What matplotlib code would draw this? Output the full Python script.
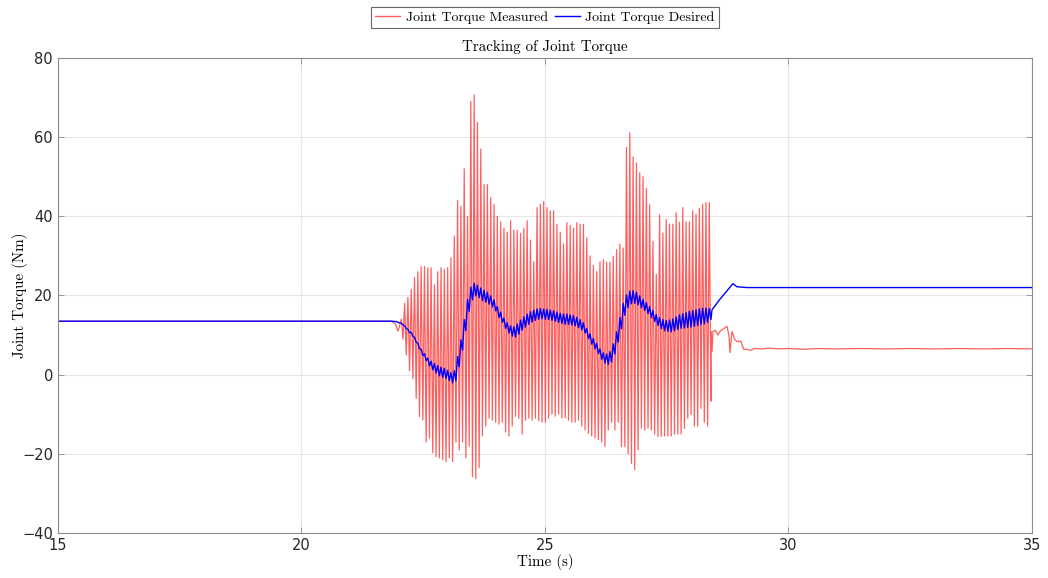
import numpy as np
import matplotlib
matplotlib.use("Agg")
import matplotlib.pyplot as plt

# ---- measured / desired joint torque data ----
# steady state before the disturbance
t_start, t_pre_end = 15.0, 21.85
torque_pre = 13.5

# measured torque: transition into the oscillation
red_lead_t = [21.85, 21.93, 21.98, 22.01]
red_lead_v = [13.5, 12.8, 11.0, 12.0]

# oscillation phase: one high and one low per cycle
osc_t0 = 22.05
osc_period = 0.068
red_highs = [14, 18, 19.5, 21.5, 24.5, 26, 27.3, 27.3, 27, 27, 22.7, 26, 27, 26.5, 27,
             29.5, 35, 44, 42.5, 52, 40, 69, 70.7, 63.7, 57, 48, 48, 44.7, 43, 40,
             38.6, 37, 36, 38.9, 36.5, 36.5, 35.7, 37, 38.9, 34, 28.5, 42.2, 43, 43.7, 42.2,
             41.4, 41.4, 38, 36, 33, 38.4, 37.7, 37, 38.4, 38, 38, 34.5, 30, 27.6, 26,
             28.5, 29, 28.4, 28.4, 29.9, 31.6, 33, 32, 57.4, 61.1, 55, 53.4, 51, 50, 47,
             42.9, 33.7, 25.3, 40.4, 35.8, 39.2, 38, 38, 40.9, 38.5, 42.2, 38.6, 38.6, 41.4, 40.5,
             42, 43, 43.5, 43.5]
red_lows = [9, 5, 1, -1, -6, -10.6, -11.4, -17, -16, -19.7, -20.7, -21, -21.5, -22, -21,
            -22, -17, -19, -17, -21, -18, -25.8, -26.3, -23.5, -15.5, -13, -11, -11.5, -12, -12.5,
            -12, -14.5, -15.5, -13, -10.5, -11, -15, -11.5, -11, -11.5, -11, -11.7, -12, -12, -11,
            -10, -10.5, -10, -11, -10.9, -11.5, -12, -12, -11.5, -13, -14, -14.8, -15.5, -16, -16.4,
            -17, -18.2, -14, -12, -14, -12, -18.2, -18.2, -20, -22.4, -24, -19, -13.5, -14, -13.5,
            -14, -15, -15.6, -15.6, -15.5, -15.5, -15.5, -15, -15, -15, -13.6, -11, -10, -13, -13,
            -8.5, -12, -13, -6.7]

# measured torque after the oscillation settles
red_tail_t = [28.41, 28.43, 28.45, 28.50, 28.55, 28.60, 28.66, 28.74, 28.78, 28.80, 28.84,
              28.90, 28.96, 29.02, 29.08, 29.15, 29.22, 29.30, 29.45, 29.60, 29.80, 30.0,
              30.3, 30.6, 31.0, 31.5, 32.0, 32.5, 33.0, 33.5, 34.0, 34.5, 35.0]
red_tail_v = [10.9, 5.8, 10.9, 11.2, 10.0, 11.0, 11.5, 12.2, 9.6, 5.6, 10.9,
              8.8, 8.3, 8.5, 6.4, 6.4, 6.1, 6.6, 6.5, 6.7, 6.5, 6.6,
              6.4, 6.6, 6.5, 6.6, 6.5, 6.6, 6.5, 6.6, 6.5, 6.6, 6.5]

# desired torque: centre value per oscillation cycle and its ripple
blue_centres = [12.8, 12, 11, 10.2, 8.8, 7.2, 5.6, 4.4, 3.2, 2.3, 1.6, 1.0, 0.6, 0.3, -0.2,
                -0.8, -0.3, 3.3, 7.5, 12.5, 17.5, 20.5, 21.5, 21, 20.3, 19.8, 19.3, 18.5, 17.5, 15.8,
                14.5, 13, 11.8, 11, 10.8, 11.5, 12.5, 13.3, 14, 14.6, 15, 15.3, 15.4, 15.3, 15.2,
                15, 14.8, 14.5, 14.2, 14, 14, 13.8, 13.6, 13.2, 12.6, 11.8, 10.4, 9, 7.8, 6.6,
                5.2, 4.2, 3.9, 4.5, 6.5, 9.5, 13, 16.5, 18.5, 19.5, 19.6, 19.2, 18.4, 17.6, 16.8,
                15.8, 14.8, 13.8, 13, 12.5, 12.3, 12.3, 12.6, 13, 13.4, 13.6, 13.8, 14, 14.2, 14.4,
                14.6, 14.8, 15, 15.3]
blue_ripple = [0.2, 0.3, 0.4, 0.5, 0.6, 0.7, 0.8, 0.9, 1.0, 1.1, 1.2, 1.3, 1.3, 1.3, 1.3,
               1.3, 1.3, 1.3, 1.3, 1.4, 1.5, 1.6, 1.6, 1.6, 1.6, 1.5, 1.5, 1.4, 1.4, 1.4,
               1.3, 1.3, 1.3, 1.3, 1.3, 1.3, 1.3, 1.3, 1.3, 1.3, 1.3, 1.3, 1.3, 1.3, 1.3,
               1.3, 1.3, 1.3, 1.3, 1.3, 1.3, 1.3, 1.3, 1.3, 1.3, 1.3, 1.3, 1.3, 1.3, 1.3,
               1.3, 1.3, 1.3, 1.3, 1.3, 1.3, 1.4, 1.5, 1.6, 1.6, 1.6, 1.6, 1.5, 1.4, 1.4,
               1.4, 1.4, 1.4, 1.4, 1.4, 1.4, 1.5, 1.5, 1.6, 1.7, 1.8, 1.9, 2.0, 2.0, 2.0,
               2.0, 2.0, 1.8, 1.4]

blue_lead_t = [21.95, 22.0]
blue_lead_v = [13.4, 13.1]
blue_tail_t = [28.43, 28.59, 28.76, 28.86, 28.94, 29.15, 35.0]
blue_tail_v = [16.4, 19.0, 21.5, 23.0, 22.2, 22.0, 22.0]

# ---- assemble time series ----
n_cyc = len(red_highs)
t_hi = osc_t0 + osc_period * np.arange(n_cyc)
t_lo = t_hi + osc_period / 2

red_osc_t = np.column_stack([t_hi, t_lo]).ravel()
red_osc_v = np.column_stack([red_highs, red_lows]).ravel()
red_t = np.concatenate([[t_start, t_pre_end], red_lead_t, red_osc_t, red_tail_t])
red_v = np.concatenate([[torque_pre, torque_pre], red_lead_v, red_osc_v, red_tail_v])

bc = np.asarray(blue_centres)
br = np.asarray(blue_ripple)
blue_osc_v = np.column_stack([bc + br, bc - br]).ravel()
blue_t = np.concatenate([[t_start, t_pre_end], blue_lead_t, red_osc_t, blue_tail_t])
blue_v = np.concatenate([[torque_pre, torque_pre], blue_lead_v, blue_osc_v, blue_tail_v])

# ---- figure ----
fig = plt.figure(figsize=(10.48, 5.78), dpi=100)
ax = fig.add_axes([0.0553, 0.0779, 0.9294, 0.8218])

ax.plot(red_t, red_v, color="#ff1a1a", lw=0.9, alpha=0.7, label="Joint Torque Measured")
ax.plot(blue_t, blue_v, color="#0000ff", lw=1.0, label="Joint Torque Desired")

ax.set_xlim(15, 35)
ax.set_ylim(-40, 80)
ax.set_xticks([15, 20, 25, 30, 35])
ax.set_yticks(np.arange(-40, 81, 20))
ax.grid(True, color="#e6e6e6", lw=0.8)
ax.set_axisbelow(True)

spine_col = "#8c8c8c"
for s in ax.spines.values():
    s.set_color(spine_col)
    s.set_linewidth(0.8)
ax.tick_params(direction="in", length=4, width=0.6, color=spine_col,
               labelsize=10.5, labelcolor="#262626", top=True, right=True)

serif = "cmr10"
ax.set_title("Tracking of Joint Torque", fontsize=10.8, family=serif, pad=5)
ax.set_xlabel("Time (s)", fontsize=10.8, family=serif, labelpad=1)
ax.set_ylabel("Joint Torque (Nm)", fontsize=10.8, family=serif)
ax.yaxis.set_label_coords(-0.031, 0.5)

leg = ax.legend(loc="lower center", bbox_to_anchor=(0.5, 1.049), ncol=2,
                prop={"family": serif, "size": 10}, frameon=True, fancybox=False,
                handlelength=1.8, columnspacing=0.5, borderpad=0.3, handletextpad=0.4,
                borderaxespad=0.5)
leg.get_frame().set_edgecolor("#404040")
leg.get_frame().set_linewidth(0.8)
for h in leg.get_lines():
    h.set_linewidth(1.0)

fig.savefig("out.png", dpi=100)
